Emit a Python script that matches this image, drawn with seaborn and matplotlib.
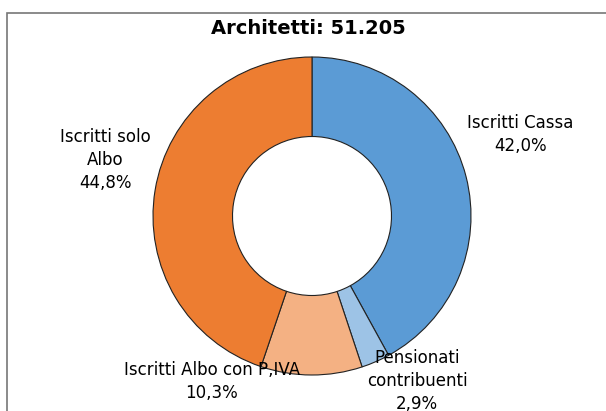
import matplotlib
matplotlib.use("Agg")
import matplotlib.pyplot as plt
from matplotlib.patches import Rectangle
import seaborn as sns

# Data
categories = ["Iscritti Cassa", "Pensionati\ncontribuenti", "Iscritti Albo con P.IVA", "Iscritti solo\nAlbo"]
shares = [42.0, 2.9, 10.3, 44.8]
colors = ["#5B9BD5", "#9DC3E6", "#F4B183", "#ED7D31"]
title = "Architetti: 51.205"

# label anchor points, in units of the outer radius
label_pos = [(1.31, 0.51), (0.66, -1.04), (-0.63, -1.04), (-1.30, 0.35)]

sns.set_theme(style="white")
plt.rcParams['font.family'] = ['DejaVu Sans']

fig = plt.figure(figsize=(6.06, 4.11), dpi=100)
W, H = 606, 411
cx, cy, r = 312, 216, 159
ax = fig.add_axes([(cx - r) / W, (H - cy - r) / H, 2 * r / W, 2 * r / H])

wedges, _ = ax.pie(shares, colors=colors, startangle=90, counterclock=False,
                   radius=1.0,
                   wedgeprops=dict(width=0.5, edgecolor="#222222", linewidth=0.8))
ax.set_xlim(-1, 1)
ax.set_ylim(-1, 1)
ax.set_aspect("equal")
ax.axis("off")

for cat, val, (lx, ly) in zip(categories, shares, label_pos):
    txt = f"{cat}\n{val:.1f}%".replace(".", ",")
    ax.text(lx, ly, txt, ha="center", va="center", fontsize=12,
            color="black", clip_on=False, linespacing=1.35)

fig.text(308 / W, 1 - 28 / H, title, ha="center", va="center",
         fontsize=14, fontweight="bold", color="black")

# chart frame (only left and top edges are visible in the crop)
fig.add_artist(Rectangle((7 / W, -0.1), 1.2, 1 - 13 / H + 0.1,
                         transform=fig.transFigure, fill=False,
                         edgecolor="#777777", linewidth=1.2))

fig.savefig("out.png", dpi=100)
